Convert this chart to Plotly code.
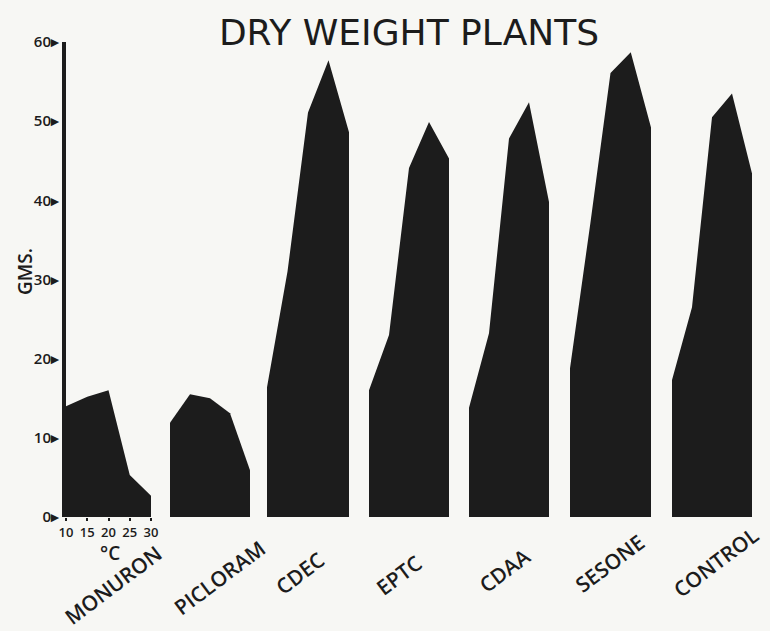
import plotly.graph_objects as go

temps = [10, 15, 20, 25, 30]
temp_labels = ["10", "15", "20", "25", "30"]
categories = ["MONURON", "PICLORAM", "CDEC", "EPTC", "CDAA", "SESONE", "CONTROL"]
monuron = [14.0, 15.2, 16.0, 5.3, 2.7]
picloram = [11.9, 15.5, 15.0, 13.1, 5.9]
cdec = [16.4, 31.0, 51.1, 57.7, 48.6]
eptc = [16.0, 23.0, 44.1, 49.9, 45.3]
cdaa = [13.8, 23.2, 47.8, 52.4, 39.8]
sesone = [18.8, 37.0, 56.1, 58.7, 49.2]
control = [17.3, 26.5, 50.5, 53.5, 43.4]
series = [monuron, picloram, cdec, eptc, cdaa, sesone, control]
y_ticks = [0, 10, 20, 30, 40, 50, 60]

W, H = 770, 631
ML, MR, MT, MB = 66, 18, 42, 114
PW = W - ML - MR
PH = H - MT - MB
panel_px = [(66, 151), (170, 250), (267, 349), (369, 449), (469, 549), (570, 651), (672, 752)]
label_pos = [(113, 585), (219, 578), (300, 573), (399, 575), (505, 570), (610, 563), (716, 562)]

INK = "#1c1c1c"
FONT = "Open Sans"
TFONT = "DejaVu Sans"


def px_x(x):
    return (x - ML) / PW


def px_y(y):
    return 1 - (y - MT) / PH


fig = go.Figure()
layout = {}
annotations = []
for i, (name, vals) in enumerate(zip(categories, series)):
    ax = "x" if i == 0 else f"x{i+1}"
    key = "xaxis" if i == 0 else f"xaxis{i+1}"
    fig.add_trace(go.Scatter(
        x=temps, y=vals, xaxis=ax, yaxis="y", mode="lines",
        fill="tozeroy", fillcolor=INK, line=dict(width=0, color=INK),
        showlegend=False, hoverinfo="x+y", name=name))
    l, r = panel_px[i]
    dom = [px_x(l), px_x(r)]
    axd = dict(domain=dom, range=[10, 30], anchor="y", showgrid=False,
               zeroline=False, showline=False, fixedrange=True)
    if i == 0:
        axd.update(tickmode="array", tickvals=temps, ticktext=temp_labels,
                   ticks="outside", ticklen=3, tickwidth=1.5, tickcolor=INK,
                   ticklabelstandoff=0,
                   tickfont=dict(family=FONT, size=13, color=INK, weight=600))
    else:
        axd.update(showticklabels=False, ticks="")
    layout[key] = axd
    lx, ly = label_pos[i]
    annotations.append(dict(text=name, x=px_x(lx), y=px_y(ly), xref="paper", yref="paper",
                            showarrow=False, textangle=-37, xanchor="center", yanchor="middle",
                            font=dict(family=FONT, size=21, color=INK, weight=600)))

annotations.append(dict(text="°C", x=px_x(110), y=px_y(553), xref="paper", yref="paper",
                        showarrow=False, xanchor="center", yanchor="middle",
                        font=dict(family=FONT, size=19, color=INK, weight=600)))
annotations.append(dict(text="GMS.", x=px_x(25), y=px_y(272), xref="paper", yref="paper",
                        showarrow=False, textangle=-90, xanchor="center", yanchor="middle",
                        font=dict(family=FONT, size=19, color=INK, weight=600)))

layout["yaxis"] = dict(range=[0, 60], domain=[0, 1], anchor="x", showgrid=False, zeroline=False,
                       showline=True, linewidth=4, linecolor=INK, tickmode="array",
                       tickvals=y_ticks, ticktext=[f"{v}\u25B8" for v in y_ticks], ticks="",
                       ticklabelstandoff=0,
                       tickfont=dict(family=FONT, size=15, color=INK, weight=600), fixedrange=True)

fig.update_layout(
    width=W, height=H,
    margin=dict(l=ML, r=MR, t=MT, b=MB),
    paper_bgcolor="#f7f7f4", plot_bgcolor="#f7f7f4",
    title=dict(text="DRY WEIGHT PLANTS", x=409 / W, xanchor="center", y=1 - 32 / H,
               yanchor="middle", yref="container",
               font=dict(family=TFONT, size=36, color=INK)),
    annotations=annotations,
    **layout,
)
fig.write_html("out.html", config={"displayModeBar": False},
               post_script="document.body.style.margin='0';document.body.style.overflow='hidden';")
